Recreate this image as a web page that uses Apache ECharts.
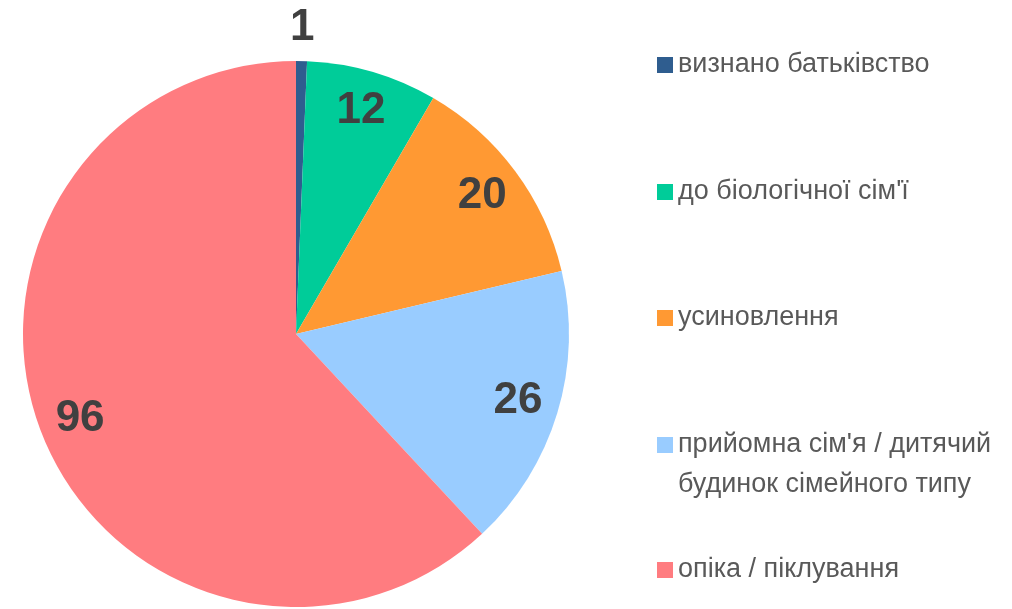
<!DOCTYPE html>
<html>
<head>
<meta charset="utf-8">
<script src="https://cdn.jsdelivr.net/npm/echarts@6/dist/echarts.min.js"></script>
<style>
  html, body { margin: 0; padding: 0; background: #fff; }
  #chart { width: 1012px; height: 609px; }
</style>
</head>
<body>
<div id="chart"></div>
<script>
const categories = ['визнано батьківство', 'до біологічної сім\'ї', 'усиновлення', 'прийомна сім\'я / дитячий\nбудинок сімейного типу', 'опіка / піклування']
const values = [1, 12, 20, 26, 96]
const colors = ['#2F5D8F', '#00CC99', '#FF9933', '#99CCFF', '#FF7C80']

const font = '"Liberation Sans Narrow", "Arial Narrow", "Liberation Sans", sans-serif'
const center = [296, 334]

const pieData = categories.map((name, i) => ({
  name,
  value: values[i],
  itemStyle: { color: colors[i] }
}))

// легенда: окремий блок на кожен пункт, щоб задати точні відступи
// (у двохрядковому пункті порожній перший рядок вирівнює маркер з першим рядком тексту)
const legendTops = [49, 176, 302, 385, 554]
const legends = categories.map((name, i) => ({
  data: [name],
  orient: 'vertical',
  left: 657,
  top: legendTops[i],
  padding: 0,
  itemWidth: 16,
  itemHeight: 16,
  icon: 'rect',
  selectedMode: false,
  formatter: n => (n.indexOf('\n') >= 0 ? '\n' + n : n),
  textStyle: {
    fontFamily: font,
    fontSize: 27,
    lineHeight: i === 3 ? 40 : 32,
    color: '#595959'
  }
}))

const labelStyle = {
  fontFamily: font,
  fontSize: 44,
  fontWeight: 'bold',
  color: '#404040'
}

const chart = echarts.init(document.getElementById('chart'), null, { renderer: 'canvas' })
chart.setOption({
  animation: false,
  legend: legends,
  series: [
    {
      type: 'pie',
      center,
      radius: 273,
      startAngle: 90,
      clockwise: true,
      label: { show: false },
      labelLine: { show: false },
      emphasis: { disabled: true },
      data: pieData
    },
    {
      // підписи всередині секторів
      type: 'pie',
      center,
      radius: [185, 273],
      startAngle: 90,
      silent: true,
      itemStyle: { color: 'rgba(0,0,0,0)' },
      label: {
        show: true,
        position: 'inside',
        formatter: p => (p.dataIndex === 0 ? '' : p.value),
        ...labelStyle
      },
      labelLine: { show: false },
      data: values.map((v, i) => ({ name: categories[i], value: v }))
    },
    {
      // підпис найменшого сектора над колом
      type: 'pie',
      center,
      radius: [286, 320],
      startAngle: 90,
      silent: true,
      itemStyle: { color: 'rgba(0,0,0,0)' },
      label: {
        show: true,
        position: 'inside',
        formatter: p => (p.dataIndex === 0 ? p.value : ''),
        ...labelStyle
      },
      labelLine: { show: false },
      data: values.map((v, i) => ({ name: categories[i], value: v }))
    }
  ]
})
</script>
</body>
</html>
